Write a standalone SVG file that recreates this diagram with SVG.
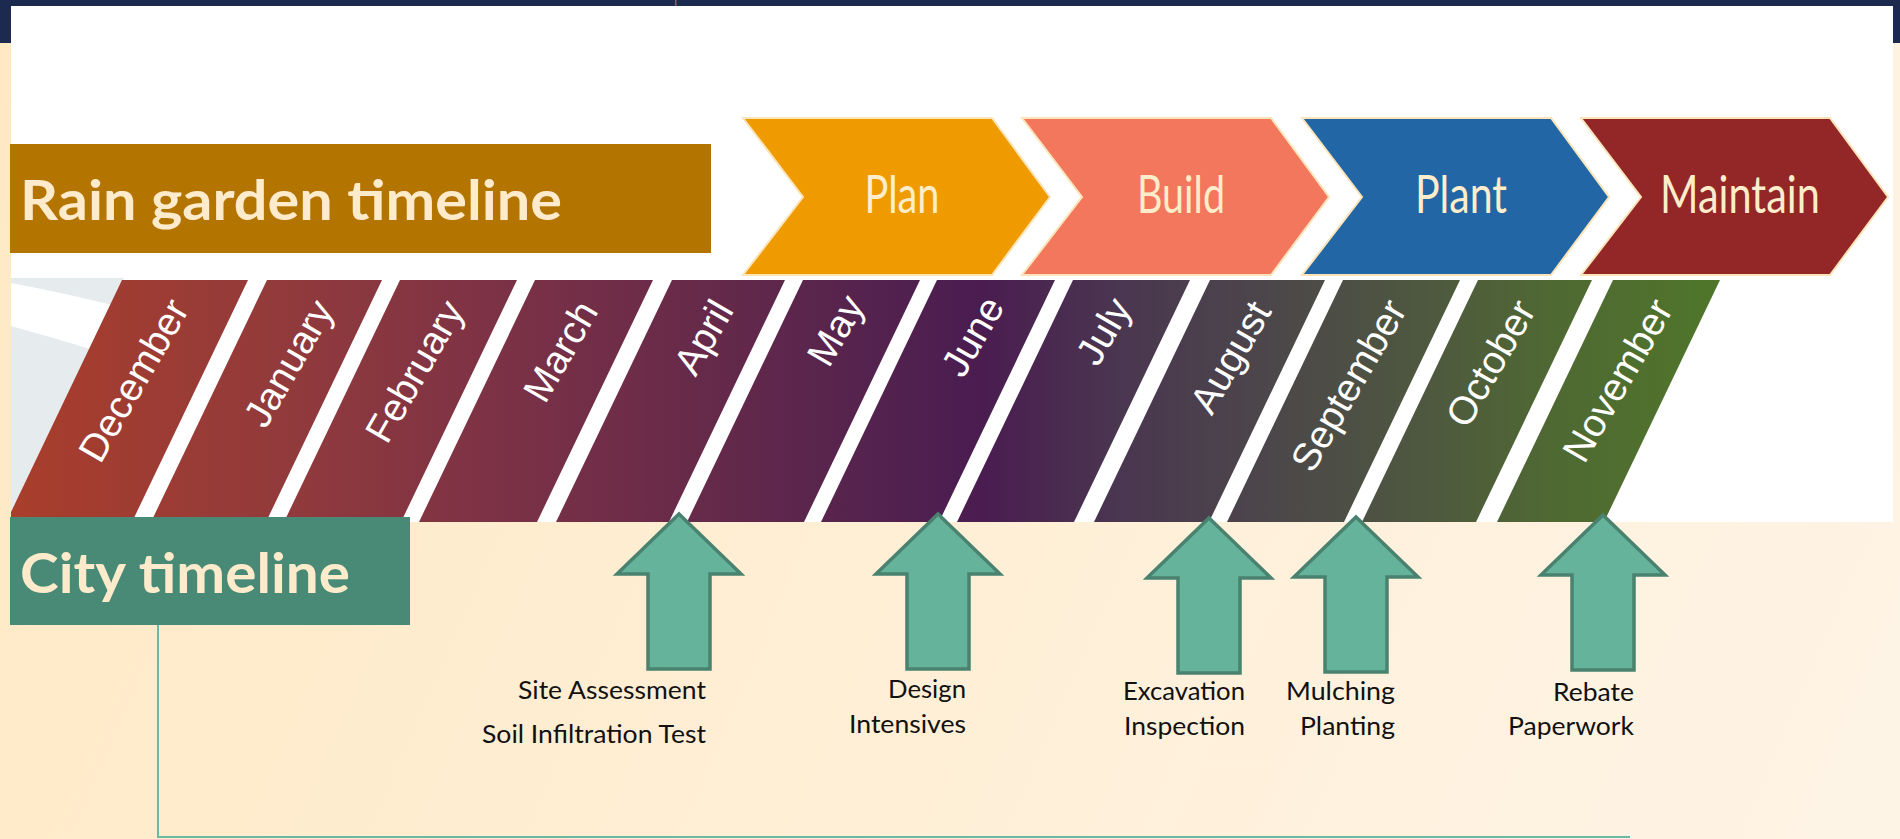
<svg xmlns="http://www.w3.org/2000/svg" width="1900" height="839" viewBox="0 0 1900 839">
<defs>
<linearGradient id="bg" x1="0" y1="0" x2="1900" y2="839" gradientUnits="userSpaceOnUse">
<stop offset="0" stop-color="#FFE9C4"/>
<stop offset="1" stop-color="#FEF4E6"/>
</linearGradient>
<linearGradient id="band" x1="0" y1="0" x2="1720" y2="0" gradientUnits="userSpaceOnUse">
<stop offset="0" stop-color="#AA3E2A"/>
<stop offset="0.17" stop-color="#913A3C"/>
<stop offset="0.3" stop-color="#7A3146"/>
<stop offset="0.42" stop-color="#64294A"/>
<stop offset="0.5" stop-color="#55234E"/>
<stop offset="0.57" stop-color="#4A1C50"/>
<stop offset="0.65" stop-color="#4A3650"/>
<stop offset="0.74" stop-color="#4C474A"/>
<stop offset="0.82" stop-color="#4E5640"/>
<stop offset="0.9" stop-color="#4F6833"/>
<stop offset="1" stop-color="#4F762A"/>
</linearGradient>
<path id="arrow" d="M0,0 L62,60 L31,60 L31,155 L-31,155 L-31,60 L-62,60 Z"/>
<style>
.month{font-family:"Liberation Sans",Arial,sans-serif;font-size:39px;fill:#FFFFFF;text-anchor:middle}
.chev{stroke:#FBE4B8;stroke-width:2}
.chevtxt{font-family:Lato,"Open Sans",sans-serif;font-size:52px;fill:#FDEDCB;text-anchor:middle}
.title{font-family:Lato,"Open Sans",sans-serif;font-weight:bold;font-size:56px;fill:#FDEBCB}
.arrow{fill:#66B39B;stroke:#4A8270;stroke-width:3.5;stroke-linejoin:miter}
.lbl{font-family:Lato,"Open Sans",sans-serif;font-size:25px;fill:#111111;text-anchor:end}
.conn{fill:none;stroke:#6CB8A2;stroke-width:2}
</style>
</defs>

<!-- background -->
<rect x="0" y="0" width="1900" height="839" fill="url(#bg)"/>
<rect x="0" y="0" width="1900" height="6" fill="#1B2A4E"/>
<rect x="0" y="0" width="11" height="43" fill="#1B2A4E"/>
<rect x="1893" y="0" width="7" height="43" fill="#1B2A4E"/>
<rect x="675" y="0" width="1.5" height="6" fill="#8A6A3A"/>
<rect x="11" y="6" width="1882" height="516" fill="#FFFFFF"/>

<!-- month band -->
<g id="month-band">
<polygon points="11,278 124,278 11,512" fill="#E6EBED"/>
<path d="M11,283 Q60,292 116,306 L100,352 Q55,338 11,326 Z" fill="#FFFFFF"/>
<g fill="url(#band)">
<polygon id="strip-dec" points="122,280 248,280 132,522 11,522 11,512"/>
<polygon id="strip-jan" points="267,280 382,280 266,522 151,522"/>
<polygon id="strip-feb" points="400,280 517,280 401,522 284,522"/>
<polygon id="strip-mar" points="535,280 653,280 537,522 419,522"/>
<polygon id="strip-apr" points="672,280 785,280 669,522 556,522"/>
<polygon id="strip-may" points="803,280 920,280 804,522 687,522"/>
<polygon id="strip-jun" points="937,280 1055,280 939,522 821,522"/>
<polygon id="strip-jul" points="1073,280 1190,280 1074,522 957,522"/>
<polygon id="strip-aug" points="1210,280 1325,280 1209,522 1094,522"/>
<polygon id="strip-sep" points="1343,280 1460,280 1344,522 1227,522"/>
<polygon id="strip-oct" points="1478,280 1592,280 1476,522 1362,522"/>
<polygon id="strip-nov" points="1613,280 1720,280 1604,522 1497,522"/>
</g>
<g class="month">
<text transform="translate(133,380) rotate(-60)" y="14">December</text>
<text transform="translate(288,363) rotate(-60)" y="14">January</text>
<text transform="translate(414,371) rotate(-60)" y="14">February</text>
<text transform="translate(560,351) rotate(-60)" y="14">March</text>
<text transform="translate(703,337) rotate(-60)" y="14">April</text>
<text transform="translate(835,330) rotate(-60)" y="14">May</text>
<text transform="translate(972,336) rotate(-60)" y="14">June</text>
<text transform="translate(1103,331) rotate(-60)" y="14">July</text>
<text transform="translate(1230,357) rotate(-60)" y="14">August</text>
<text transform="translate(1348,385) rotate(-60)" y="14">September</text>
<text transform="translate(1490,363) rotate(-60)" y="14">October</text>
<text transform="translate(1617,380) rotate(-60)" y="14">November</text>
</g>
</g>

<!-- title boxes -->
<g id="rain-garden-timeline">
<rect x="10" y="144" width="701" height="109" fill="#B37400"/>
<text class="title" x="20" y="220" textLength="542" lengthAdjust="spacingAndGlyphs">Rain garden timeline</text>
</g>
<g id="city-timeline">
<rect x="10" y="517" width="400" height="108" fill="#488A75"/>
<text class="title" x="20" y="593" textLength="330" lengthAdjust="spacingAndGlyphs">City timeline</text>
</g>

<!-- chevrons -->
<g id="plan">
<polygon class="chev" points="743,118 992,118 1050,197 992,275 743,275 803,197" fill="#EF9B00"/>
<text class="chevtxt" x="902" y="213" textLength="75" lengthAdjust="spacingAndGlyphs">Plan</text>
</g>
<g id="build">
<polygon class="chev" points="1022,118 1271,118 1329,197 1271,275 1022,275 1082,197" fill="#F3775D"/>
<text class="chevtxt" x="1181" y="213" textLength="88" lengthAdjust="spacingAndGlyphs">Build</text>
</g>
<g id="plant">
<polygon class="chev" points="1302,118 1551,118 1609,197 1551,275 1302,275 1362,197" fill="#2266A6"/>
<text class="chevtxt" x="1461" y="213" textLength="92" lengthAdjust="spacingAndGlyphs">Plant</text>
</g>
<g id="maintain">
<polygon class="chev" points="1581,118 1830,118 1888,197 1830,275 1581,275 1641,197" fill="#932626"/>
<text class="chevtxt" x="1740" y="213" textLength="160" lengthAdjust="spacingAndGlyphs">Maintain</text>
</g>

<!-- connectors -->
<g id="connectors">
<path class="conn" d="M158,625 L158,837 L1630,837"/>
</g>

<!-- city milestones -->
<g id="site-assessment">
<use href="#arrow" class="arrow" transform="translate(679,514)"/>
<text class="lbl" x="706" y="699" textLength="188" lengthAdjust="spacingAndGlyphs">Site Assessment</text>
<text class="lbl" x="706" y="743" textLength="224" lengthAdjust="spacingAndGlyphs">Soil Infiltration Test</text>
</g>
<g id="design">
<use href="#arrow" class="arrow" transform="translate(938,514)"/>
<text class="lbl" x="966" y="698" textLength="78" lengthAdjust="spacingAndGlyphs">Design</text>
<text class="lbl" x="966" y="733" textLength="117" lengthAdjust="spacingAndGlyphs">Intensives</text>
</g>
<g id="excavation">
<use href="#arrow" class="arrow" transform="translate(1209,518)"/>
<text class="lbl" x="1245" y="700" textLength="122" lengthAdjust="spacingAndGlyphs">Excavation</text>
<text class="lbl" x="1245" y="735" textLength="121" lengthAdjust="spacingAndGlyphs">Inspection</text>
</g>
<g id="mulching">
<use href="#arrow" class="arrow" transform="translate(1356,517)"/>
<text class="lbl" x="1395" y="700" textLength="109" lengthAdjust="spacingAndGlyphs">Mulching</text>
<text class="lbl" x="1395" y="735" textLength="95" lengthAdjust="spacingAndGlyphs">Planting</text>
</g>
<g id="rebate">
<use href="#arrow" class="arrow" transform="translate(1603,515)"/>
<text class="lbl" x="1634" y="701" textLength="81" lengthAdjust="spacingAndGlyphs">Rebate</text>
<text class="lbl" x="1634" y="735" textLength="126" lengthAdjust="spacingAndGlyphs">Paperwork</text>
</g>
</svg>
